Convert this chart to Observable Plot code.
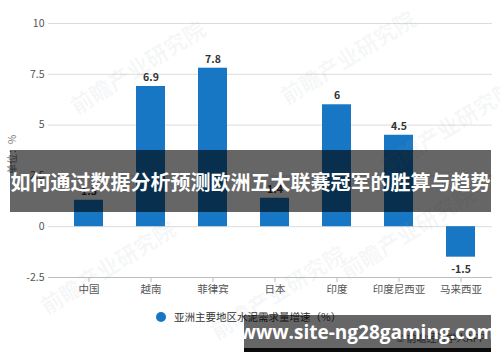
<!DOCTYPE html>
<html>
<head>
<meta charset="utf-8">
<script src="https://cdn.jsdelivr.net/npm/d3@7"></script>
<script src="https://cdn.jsdelivr.net/npm/@observablehq/plot@0.6"></script>
<style>
  body { margin: 0; background: #fff; font-family: "Noto Sans CJK SC", "Noto Sans", sans-serif; }
  #wrap { position: relative; width: 500px; height: 362px; overflow: hidden; }
  .wm { position: absolute; color: rgba(150,160,175,0.09); font-size: 22px; font-weight: bold; transform: rotate(-32deg); white-space: nowrap; pointer-events: none; }
  #ylab { position: absolute; left: 4px; transform: rotate(-90deg); transform-origin: left top; font-size: 10px; color: #777; white-space: nowrap; }
  #legend { position: absolute; left: 156px; top: 309px; font-size: 10.5px; color: #333; display: flex; align-items: center; white-space: nowrap; }
  #legend .dot { width: 10px; height: 10px; border-radius: 50%; background: #1877c4; margin-right: 8px; }
  #credit { position: absolute; left: 396px; top: 330px; font-size: 10px; color: #555; white-space: nowrap; }
  #banner { position: absolute; left: 10px; top: 150px; width: 481px; height: 62px; background: rgba(0,0,0,0.6); display: flex; align-items: center; justify-content: center; }
  #banner span { color: #fff; font-weight: bold; font-size: 20px; white-space: nowrap; }
  #url { position: absolute; left: 244px; top: 315px; width: 247px; height: 33px; background: rgba(0,0,0,0.6); border-bottom: 4px solid rgba(0,0,0,0.9); display: flex; align-items: center; justify-content: center; }
  #url span { color: #fff; font-weight: bold; font-size: 19px; font-family: "Open Sans", "DejaVu Sans", sans-serif; white-space: nowrap; }
</style>
</head>
<body>
<div id="wrap"></div>
<script>
const categories = ["中国", "越南", "菲律宾", "日本", "印度", "印度尼西亚", "马来西亚"];
const values = [1.3, 6.9, 7.8, 1.4, 6, 4.5, -1.5];
const valueLabels = ["1.3", "6.9", "7.8", "1.4", "6", "4.5", "-1.5"];
const yTicks = [-2.5, 0, 2.5, 5, 7.5, 10];
const yTickLabels = ["-2.5", "0", "2.5", "5", "7.5", "10"];
const seriesName = "亚洲主要地区水泥需求量增速（%）";
const yUnit = "单位：%";
const title = "如何通过数据分析预测欧洲五大联赛冠军的胜算与趋势";
const url = "www.site-ng28gaming.com";
const credit = "© 前瞻经济学人APP";
const watermark = "前瞻产业研究院";

const data = categories.map((c, i) => ({cat: c, v: values[i], label: valueLabels[i]}));
const barColor = "#1877c4";

const chart = Plot.plot({
  width: 500,
  height: 362,
  marginTop: 23,
  marginBottom: 85,
  marginLeft: 48,
  marginRight: 8,
  style: {fontFamily: "'Noto Sans CJK SC', 'Noto Sans', sans-serif", background: "transparent"},
  x: {domain: categories, range: [58, 492], paddingInner: 0.53, paddingOuter: 0.265, label: null},
  y: {domain: [-2.5, 10], label: null},
  marks: [
    Plot.ruleY(yTicks.filter(t => t > -2.5), {stroke: "#dcdcdc", strokeWidth: 1}),
    Plot.ruleY([-2.5], {stroke: "#bdbdbd", strokeWidth: 1}),
    Plot.barY(data, {x: "cat", y: "v", fill: barColor}),
    Plot.text(data.filter(d => d.v >= 0), {x: "cat", y: "v", text: "label", dy: -9, fontSize: 10.5, fontWeight: "bold", fill: "#333"}),
    Plot.text(data.filter(d => d.v < 0), {x: "cat", y: "v", text: "label", dy: 12, fontSize: 10.5, fontWeight: "bold", fill: "#333"}),
    Plot.axisY({ticks: yTicks, tickFormat: d => yTickLabels[yTicks.indexOf(d)], tickSize: 0, tickPadding: 4, fontSize: 10.5, fill: "#555"}),
    Plot.axisX({tickSize: 5, tickPadding: 3, fontSize: 10.5, fill: "#555", stroke: "#bdbdbd"})
  ]
});

const wrap = document.getElementById("wrap");
chart.style.position = "absolute";
chart.style.left = "0";
chart.style.top = "0";
wrap.appendChild(chart);

// faint watermarks
[[60, 50], [270, 40], [30, 250], [200, 275], [330, 215], [370, 110]].forEach(([l, t]) => {
  const w = document.createElement("div");
  w.className = "wm";
  w.style.left = l + "px";
  w.style.top = t + "px";
  w.textContent = watermark;
  wrap.appendChild(w);
});

const ylab = document.createElement("div");
ylab.id = "ylab";
ylab.style.top = "174px";
ylab.textContent = yUnit;
wrap.appendChild(ylab);

const legend = document.createElement("div");
legend.id = "legend";
legend.innerHTML = '<div class="dot"></div><span></span>';
legend.querySelector("span").textContent = seriesName;
wrap.appendChild(legend);

const cr = document.createElement("div");
cr.id = "credit";
cr.textContent = credit;
wrap.appendChild(cr);

const banner = document.createElement("div");
banner.id = "banner";
banner.innerHTML = "<span></span>";
banner.querySelector("span").textContent = title;
wrap.appendChild(banner);

const u = document.createElement("div");
u.id = "url";
u.innerHTML = "<span></span>";
u.querySelector("span").textContent = url;
wrap.appendChild(u);
</script>
</body>
</html>
